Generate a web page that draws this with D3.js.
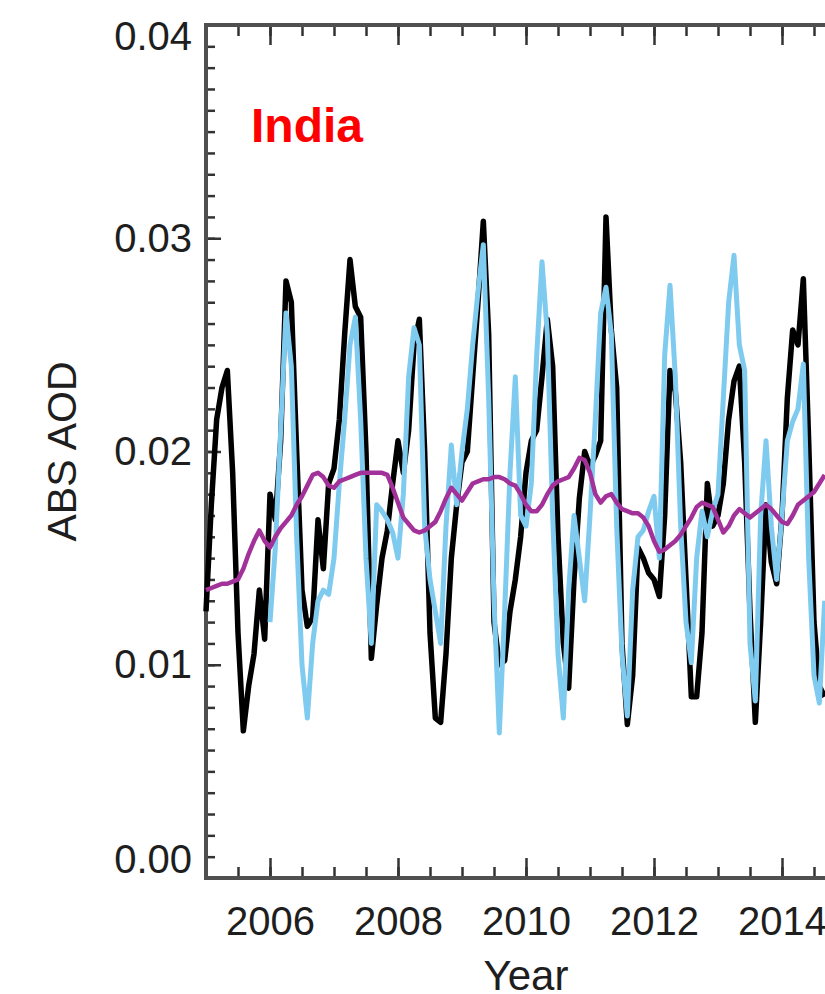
<!DOCTYPE html>
<html>
<head>
<meta charset="utf-8">
<script src="https://cdn.jsdelivr.net/npm/d3@7"></script>
<style>
  body { margin: 0; background: #fff; }
  svg { display: block; font-family: "Liberation Sans", Arial, Helvetica, sans-serif; }
</style>
</head>
<body>
<svg id="chart" width="825" height="994"></svg>
<script>
/////////////////////////////////// DONNEES ///////////////////////////////////
// monthly absorption AOD over India
var obsStart = 2005;   // black series starts Jan 2005
var modStart = 2006;   // blue series starts Jan 2006
var meanStart = 2005;  // purple running mean starts Jan 2005

var obsAod = [
  0.0125, 0.0175, 0.0215, 0.0230, 0.0238, 0.0190, 0.0115, 0.0069, 0.0090, 0.0105, 0.0135, 0.0112,
  0.0180, 0.0168, 0.0205, 0.0280, 0.0270, 0.0200, 0.0135, 0.0118, 0.0122, 0.0168, 0.0145, 0.0185,
  0.0192, 0.0215, 0.0255, 0.0290, 0.0268, 0.0263, 0.0200, 0.0103, 0.0128, 0.0150, 0.0163, 0.0185,
  0.0205, 0.0190, 0.0210, 0.0250, 0.0262, 0.0200, 0.0115, 0.0075, 0.0073, 0.0105, 0.0150, 0.0175,
  0.0195, 0.0200, 0.0235, 0.0270, 0.0308, 0.0255, 0.0120, 0.0100, 0.0102, 0.0125, 0.0140, 0.0160,
  0.0190, 0.0205, 0.0210, 0.0235, 0.0262, 0.0240, 0.0160, 0.0110, 0.0089, 0.0140, 0.0178, 0.0200,
  0.0193, 0.0198, 0.0205, 0.0310, 0.0257, 0.0230, 0.0110, 0.0072, 0.0095, 0.0155, 0.0150, 0.0143,
  0.0140, 0.0132, 0.0170, 0.0238, 0.0228, 0.0195, 0.0140, 0.0085, 0.0085, 0.0115, 0.0185, 0.0165,
  0.0170, 0.0185, 0.0215, 0.0233, 0.0240, 0.0195, 0.0125, 0.0073, 0.0120, 0.0175, 0.0148, 0.0138,
  0.0170, 0.0225, 0.0257, 0.0250, 0.0281, 0.0205, 0.0120, 0.0090, 0.0085
];

var modAod = [
  0.0120, 0.0155, 0.0210, 0.0265, 0.0240, 0.0160, 0.0100, 0.0075, 0.0110, 0.0130, 0.0135, 0.0133,
  0.0150, 0.0185, 0.0215, 0.0250, 0.0263, 0.0215, 0.0150, 0.0110, 0.0175, 0.0172, 0.0168, 0.0162,
  0.0150, 0.0180, 0.0235, 0.0258, 0.0250, 0.0165, 0.0140, 0.0125, 0.0110, 0.0165, 0.0203, 0.0175,
  0.0200, 0.0220, 0.0250, 0.0275, 0.0297, 0.0225, 0.0130, 0.0068, 0.0125, 0.0190, 0.0235, 0.0170,
  0.0165, 0.0185, 0.0245, 0.0289, 0.0255, 0.0170, 0.0105, 0.0075, 0.0135, 0.0170, 0.0150, 0.0130,
  0.0170, 0.0215, 0.0265, 0.0277, 0.0255, 0.0165, 0.0105, 0.0076, 0.0135, 0.0160, 0.0163, 0.0172,
  0.0179, 0.0150, 0.0245, 0.0278, 0.0235, 0.0165, 0.0120, 0.0101, 0.0150, 0.0172, 0.0160, 0.0172,
  0.0180, 0.0225, 0.0270, 0.0292, 0.0250, 0.0238, 0.0110, 0.0083, 0.0170, 0.0205, 0.0165, 0.0140,
  0.0170, 0.0205, 0.0214, 0.0220, 0.0241, 0.0150, 0.0095, 0.0082, 0.0130
];

var meanAod = [
  0.0135, 0.0136, 0.0137, 0.0138, 0.0138, 0.0139, 0.0140, 0.0145, 0.0152, 0.0158, 0.0163, 0.0158,
  0.0155, 0.0160, 0.0164, 0.0167, 0.0170, 0.0175, 0.0179, 0.0184, 0.0189, 0.0190, 0.0188, 0.0184,
  0.0183, 0.0186, 0.0187, 0.0188, 0.0189, 0.0190, 0.0190, 0.0190, 0.0190, 0.0190, 0.0189, 0.0183,
  0.0176, 0.0169, 0.0166, 0.0163, 0.0162, 0.0163, 0.0165, 0.0167, 0.0172, 0.0178, 0.0183, 0.0180,
  0.0177, 0.0181, 0.0185, 0.0186, 0.0187, 0.0187, 0.0188, 0.0188, 0.0187, 0.0185, 0.0184, 0.0180,
  0.0175, 0.0172, 0.0172, 0.0175, 0.0180, 0.0184, 0.0186, 0.0187, 0.0188, 0.0192, 0.0197, 0.0196,
  0.0190, 0.0180, 0.0176, 0.0179, 0.0180, 0.0176, 0.0173, 0.0172, 0.0171, 0.0171, 0.0169, 0.0165,
  0.0158, 0.0153, 0.0154, 0.0156, 0.0158, 0.0161, 0.0165, 0.0169, 0.0174, 0.0176, 0.0175, 0.0174,
  0.0168, 0.0162, 0.0165, 0.0170, 0.0173, 0.0171, 0.0169, 0.0171, 0.0173, 0.0175, 0.0173, 0.0170,
  0.0167, 0.0166, 0.0170, 0.0175, 0.0177, 0.0179, 0.0181, 0.0185, 0.0189
];

var yearTicks = [2006, 2008, 2010, 2012, 2014];
var aodTicks = [0.00, 0.01, 0.02, 0.03, 0.04];
var regionLabel = "India";

/////////////////////////////////// ECHELLES ///////////////////////////////////
var svg = d3.select("#chart");
// (window.top is reserved, hence the plot* names)
var plotLeft = 206, plotRight = 846, plotTop = 25, plotBottom = 878;

var x = d3.scaleLinear().domain([2005, 2015]).range([plotLeft, plotRight]);
var y = d3.scaleLinear().domain([0, 0.04]).range([plotBottom, plotTop]);

// monthly series -> {t, v}
function toPoints(values, start) {
  return values.map(function(v, i) { return { t: start + i / 12, v: v }; });
}

var halfYears = d3.range(2005, 2015.01, 0.5);
var minorAod = d3.range(0, 41).map(function(i) { return i / 1000; });

/////////////////////////////////// AXES ///////////////////////////////////
function styleAxis(g, width) {
  g.select(".domain").remove();
  g.selectAll(".tick line").attr("stroke", "#333").attr("stroke-width", width);
}

// bottom: minor every half year, major every two years with labels
svg.append("g").attr("transform", "translate(0," + plotBottom + ")")
  .call(d3.axisBottom(x).tickValues(halfYears).tickSize(-11).tickFormat(""))
  .call(styleAxis, 2.5);
var xAxis = svg.append("g").attr("transform", "translate(0," + plotBottom + ")")
  .call(d3.axisBottom(x).tickValues(yearTicks).tickSize(-20).tickPadding(29).tickFormat(d3.format("d")))
  .call(styleAxis, 2.5);
xAxis.selectAll("text").attr("fill", "#1e1e1e").style("font-size", "40px");

// top: same ticks pointing down, no labels
svg.append("g").attr("transform", "translate(0," + plotTop + ")")
  .call(d3.axisTop(x).tickValues(halfYears).tickSize(-11).tickFormat(""))
  .call(styleAxis, 2.5);
svg.append("g").attr("transform", "translate(0," + plotTop + ")")
  .call(d3.axisTop(x).tickValues(yearTicks).tickSize(-20).tickFormat(""))
  .call(styleAxis, 2.5);

// left: minor every 0.001, major every 0.01
svg.append("g").attr("transform", "translate(" + plotLeft + ",0)")
  .call(d3.axisLeft(y).tickValues(minorAod).tickSize(-9).tickFormat(""))
  .call(styleAxis, 2.5);
var yAxis = svg.append("g").attr("transform", "translate(" + plotLeft + ",0)")
  .call(d3.axisLeft(y).tickValues(aodTicks).tickSize(-15).tickPadding(14).tickFormat(d3.format(".2f")))
  .call(styleAxis, 2.5);
yAxis.selectAll("text").attr("fill", "#1e1e1e").style("font-size", "40px")
  .attr("y", function(d) {
    // end labels are kept inside the frame
    var py = y(d);
    return Math.min(Math.max(py, plotTop + 12), plotBottom - 18) - py;
  });

// right axis (mostly outside the window)
svg.append("g").attr("transform", "translate(" + plotRight + ",0)")
  .call(d3.axisRight(y).tickValues(minorAod).tickSize(-9).tickFormat(""))
  .call(styleAxis, 2.5);

// frame
var frame = svg.append("g").attr("fill", "none").attr("stroke", "#505050")
  .attr("stroke-width", 4).attr("stroke-linecap", "square");
frame.append("line").attr("x1", plotLeft).attr("x2", plotLeft).attr("y1", plotTop).attr("y2", plotBottom);
frame.append("line").attr("x1", plotLeft).attr("x2", plotRight).attr("y1", plotTop).attr("y2", plotTop);
frame.append("line").attr("x1", plotLeft).attr("x2", plotRight).attr("y1", plotBottom).attr("y2", plotBottom);
frame.append("line").attr("x1", plotRight).attr("x2", plotRight).attr("y1", plotTop).attr("y2", plotBottom);

/////////////////////////////////// COURBES ///////////////////////////////////
var line = d3.line()
  .x(function(d) { return x(d.t); })
  .y(function(d) { return y(d.v); });

var series = [
  { pts: toPoints(obsAod, obsStart), color: "#000000", width: 5.5 },
  { pts: toPoints(modAod, modStart), color: "#7fcbef", width: 5 },
  { pts: toPoints(meanAod, meanStart), color: "#a2329a", width: 4.5 }
];

svg.append("g").selectAll("path")
  .data(series)
  .enter()
  .append("path")
  .attr("d", function(d) { return line(d.pts); })
  .attr("fill", "none")
  .attr("stroke", function(d) { return d.color; })
  .attr("stroke-width", function(d) { return d.width; })
  .attr("stroke-linejoin", "round");

/////////////////////////////////// TEXTES ///////////////////////////////////
svg.append("text")
  .attr("x", 251).attr("y", 142)
  .attr("fill", "#ff0000")
  .style("font-size", "48px").style("font-weight", "bold")
  .text(regionLabel);

svg.append("text")
  .attr("x", (plotLeft + plotRight) / 2).attr("y", 990)
  .attr("text-anchor", "middle").attr("fill", "#1e1e1e")
  .style("font-size", "42px")
  .text("Year");

svg.append("text")
  .attr("transform", "translate(76," + ((plotTop + plotBottom) / 2) + ") rotate(-90)")
  .attr("text-anchor", "middle").attr("fill", "#1e1e1e")
  .style("font-size", "41px")
  .text("ABS AOD");
</script>
</body>
</html>
